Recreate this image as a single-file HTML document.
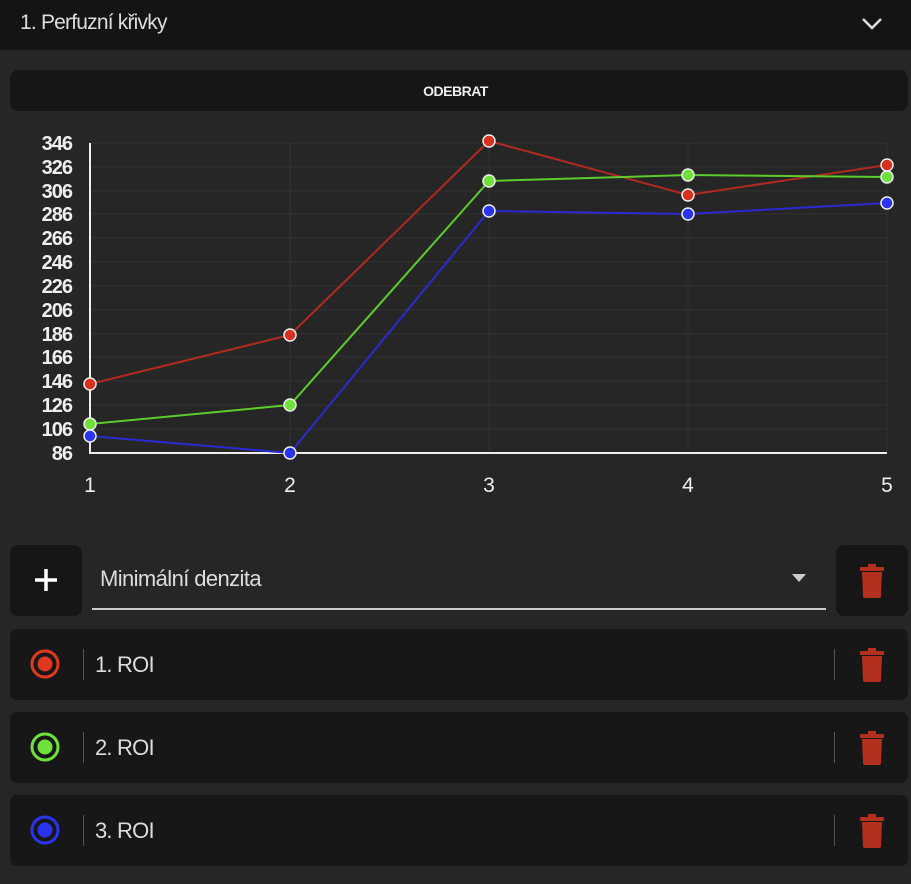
<!DOCTYPE html><html><head><style>
body{margin:0;width:911px;height:884px;background:#262626;font-family:"Liberation Sans",sans-serif;color:#ddd;position:relative;overflow:hidden}
.a{position:absolute}
.hd{left:0;top:0;width:911px;height:50px;background:#141414}
.btn{background:#161616;border-radius:8px}
.row{left:10px;width:898px;height:71px;background:#171717;border-radius:7px}
.row .t{position:absolute;left:85px;top:23px;font-size:22px;color:#ddd;letter-spacing:-0.8px}
.row .d1{position:absolute;left:73px;top:20px;width:1px;height:31px;background:#555}
.row .d2{position:absolute;left:824px;top:20px;width:1px;height:31px;background:#555}
</style></head><body>
<div class="a hd"></div>
<div class="a" style="left:20px;top:11px;font-size:21px;color:#ddd;letter-spacing:-0.8px">1. Perfuzní křivky</div>
<svg class="a" style="left:860px;top:14px" width="24" height="20"><path d="M3 5 L12 14 L21 5" stroke="#ddd" stroke-width="2.5" fill="none"/></svg>
<div class="a btn" style="left:10px;top:70px;width:898px;height:41px"></div>
<div class="a" style="left:0;top:83px;width:911px;text-align:center;font-size:14px;font-weight:bold;color:#eee;letter-spacing:-0.5px">ODEBRAT</div>
<svg class="a" style="left:0;top:0" width="911" height="520" font-family="Liberation Sans" font-size="20" font-weight="bold" fill="#eee">
<g stroke="#333" stroke-width="1">
<line x1="90" x2="887" y1="143" y2="143"/><line x1="90" x2="887" y1="167" y2="167"/><line x1="90" x2="887" y1="191" y2="191"/><line x1="90" x2="887" y1="214" y2="214"/><line x1="90" x2="887" y1="238" y2="238"/><line x1="90" x2="887" y1="262" y2="262"/><line x1="90" x2="887" y1="286" y2="286"/><line x1="90" x2="887" y1="310" y2="310"/><line x1="90" x2="887" y1="334" y2="334"/><line x1="90" x2="887" y1="357" y2="357"/><line x1="90" x2="887" y1="381" y2="381"/><line x1="90" x2="887" y1="405" y2="405"/><line x1="90" x2="887" y1="429" y2="429"/>
<line x1="290" x2="290" y1="143" y2="453"/><line x1="489" x2="489" y1="143" y2="453"/><line x1="688" x2="688" y1="143" y2="453"/><line x1="887" x2="887" y1="143" y2="453"/>
</g>
<path d="M90 143 V453 H887" stroke="#eee" stroke-width="2" fill="none"/>
<g text-anchor="end" letter-spacing="-1">
<text x="72" y="150">346</text><text x="72" y="174">326</text><text x="72" y="198">306</text><text x="72" y="221">286</text><text x="72" y="245">266</text><text x="72" y="269">246</text><text x="72" y="293">226</text><text x="72" y="317">206</text><text x="72" y="341">186</text><text x="72" y="364">166</text><text x="72" y="388">146</text><text x="72" y="412">126</text><text x="72" y="436">106</text><text x="72" y="460">86</text></g>
<g text-anchor="middle" font-weight="normal" font-size="21"><text x="90" y="492">1</text><text x="290" y="492">2</text><text x="489" y="492">3</text><text x="688" y="492">4</text><text x="887" y="492">5</text></g>
<g fill="none" stroke-width="2">
<polyline stroke="#b02a20" points="90,384 290,335 489,141 688,195 887,165"/>
<polyline stroke="#5ccc2c" points="90,424 290,405 489,181 688,175 887,177"/>
<polyline stroke="#2a2ad0" points="90,436 290,453 489,211 688,214 887,203"/>
</g>
<g stroke="#eee" stroke-width="1.5">
<g fill="#d8301e"><circle cx="90" cy="384" r="6"/><circle cx="290" cy="335" r="6"/><circle cx="489" cy="141" r="6"/><circle cx="688" cy="195" r="6"/><circle cx="887" cy="165" r="6"/></g>
<g fill="#6ee23a"><circle cx="90" cy="424" r="6"/><circle cx="290" cy="405" r="6"/><circle cx="489" cy="181" r="6"/><circle cx="688" cy="175" r="6"/><circle cx="887" cy="177" r="6"/></g>
<g fill="#2a34ee"><circle cx="90" cy="436" r="6"/><circle cx="290" cy="453" r="6"/><circle cx="489" cy="211" r="6"/><circle cx="688" cy="214" r="6"/><circle cx="887" cy="203" r="6"/></g>
</g></svg>
<div class="a btn" style="left:10px;top:545px;width:72px;height:71px"></div>
<svg class="a" style="left:33px;top:567px" width="26" height="26"><path d="M13 2 V24 M2 13 H24" stroke="#fff" stroke-width="3.5"/></svg>
<div class="a" style="left:100px;top:566px;font-size:22px;color:#ddd;letter-spacing:-0.6px">Minimální denzita</div>
<svg class="a" style="left:790px;top:572px" width="18" height="12"><path d="M2 2 H16 L9 10Z" fill="#ccc"/></svg>
<div class="a" style="left:92px;top:608px;width:734px;height:2px;background:#ccc"></div>
<div class="a btn" style="left:836px;top:545px;width:72px;height:71px"></div>
<svg width="0" height="0" style="position:absolute"><defs><g id="tr"><rect x="0" y="3" width="24" height="4" rx="1" fill="#b3301f"/><rect x="8" y="0" width="8" height="4" fill="#b3301f"/><path d="M2 8 H22 L21 32 Q21 34 19 34 H5 Q3 34 3 32Z" fill="#b3301f"/></g></defs></svg>
<svg class="a" style="left:860px;top:564px" width="24" height="35"><use href="#tr"/></svg>
<div class="a row" style="top:629px"><svg style="position:absolute;left:19px;top:19px" width="34" height="34"><circle cx="16" cy="16" r="13" stroke="#e0381e" stroke-width="3" fill="none"/><circle cx="16" cy="16" r="7.5" fill="#e0381e"/></svg><div class="d1"></div><div class="t">1. ROI</div><div class="d2"></div><svg style="position:absolute;left:850px;top:19px" width="24" height="35"><use href="#tr"/></svg></div>
<div class="a row" style="top:712px"><svg style="position:absolute;left:19px;top:19px" width="34" height="34"><circle cx="16" cy="16" r="13" stroke="#6ee23a" stroke-width="3" fill="none"/><circle cx="16" cy="16" r="7.5" fill="#6ee23a"/></svg><div class="d1"></div><div class="t">2. ROI</div><div class="d2"></div><svg style="position:absolute;left:850px;top:19px" width="24" height="35"><use href="#tr"/></svg></div>
<div class="a row" style="top:795px"><svg style="position:absolute;left:19px;top:19px" width="34" height="34"><circle cx="16" cy="16" r="13" stroke="#2a34ee" stroke-width="3" fill="none"/><circle cx="16" cy="16" r="7.5" fill="#2a34ee"/></svg><div class="d1"></div><div class="t">3. ROI</div><div class="d2"></div><svg style="position:absolute;left:850px;top:19px" width="24" height="35"><use href="#tr"/></svg></div>
</body></html>
